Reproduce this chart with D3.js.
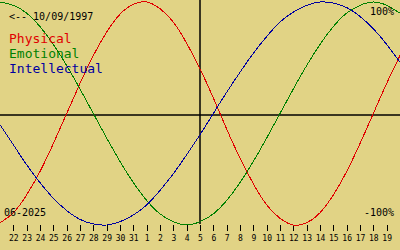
<!DOCTYPE html>
<html>
<head>
<meta charset="utf-8">
<script src="https://cdn.jsdelivr.net/npm/d3@7"></script>
<style>
  html, body { margin: 0; padding: 0; background: #e1d385; }
  svg { display: block; }
  text { font-family: "DejaVu Sans Mono", monospace; }
</style>
</head>
<body>
<div id="chart"></div>
<script>
'use strict';

// one entry per day, from 21 May to 20 June 2025 (index -1 .. 29)
var dayIndex = d3.range(-1, 30);
var dayLabels = ['22', '23', '24', '25', '26', '27', '28', '29', '30', '31',
    '1', '2', '3', '4', '5', '6', '7', '8', '9', '10',
    '11', '12', '13', '14', '15', '16', '17', '18', '19'];
var todayIndex = 14;

var physical = [-0.98, -0.89, -0.73, -0.52, -0.27, 0, 0.27, 0.52, 0.73, 0.89,
    0.98, 1.00, 0.94, 0.82, 0.63, 0.40, 0.14, -0.14, -0.40, -0.63,
    -0.82, -0.94, -1.00, -0.98, -0.89, -0.73, -0.52, -0.27, 0, 0.27, 0.52];
var emotional = [1.00, 0.97, 0.90, 0.78, 0.62, 0.43, 0.22, 0, -0.22, -0.43,
    -0.62, -0.78, -0.90, -0.97, -1.00, -0.97, -0.90, -0.78, -0.62, -0.43,
    -0.22, 0, 0.22, 0.43, 0.62, 0.78, 0.90, 0.97, 1.00, 0.97, 0.90];
var intellectual = [-0.10, -0.28, -0.46, -0.62, -0.76, -0.87, -0.95, -0.99, -1.00, -0.97,
    -0.91, -0.82, -0.69, -0.54, -0.37, -0.19, 0, 0.19, 0.37, 0.54,
    0.69, 0.82, 0.91, 0.97, 1.00, 0.99, 0.95, 0.87, 0.76, 0.62, 0.46];

var seriesNames = ['Physical', 'Emotional', 'Intellectual'];
var seriesColors = ['#e00000', '#008000', '#0000a0'];
var seriesValues = [physical, emotional, intellectual];

var WIDTH = 400,
    HEIGHT = 250,
    PLOT_BOTTOM = 225,
    AXIS_Y = 115;

var svg = d3.select('#chart').append('svg')
    .attr('width', WIDTH)
    .attr('height', HEIGHT);

var x = d3.scaleLinear().domain([-1, 29]).range([0, WIDTH]);
var y = d3.scaleLinear().domain([-1, 1]).range([PLOT_BOTTOM, 2]);

// centre lines
svg.append('line')
    .attr('x1', 0).attr('x2', WIDTH)
    .attr('y1', AXIS_Y).attr('y2', AXIS_Y)
    .attr('stroke', '#000').attr('stroke-width', 1.5);
svg.append('line')
    .attr('x1', x(todayIndex)).attr('x2', x(todayIndex))
    .attr('y1', 0).attr('y2', PLOT_BOTTOM - 1)
    .attr('stroke', '#000').attr('stroke-width', 1.5);

// day axis
var axis = d3.axisBottom(x)
    .tickValues(d3.range(0, 29))
    .tickSize(6)
    .tickPadding(4)
    .tickFormat(function (d) { return dayLabels[d]; });

var gAxis = svg.append('g')
    .attr('transform', 'translate(0,' + PLOT_BOTTOM + ')')
    .call(axis);
gAxis.select('.domain').remove();
gAxis.selectAll('line').attr('stroke', '#000').attr('shape-rendering', 'crispEdges');
gAxis.selectAll('text')
    .attr('fill', '#000')
    .style('font-family', '"DejaVu Sans Mono", monospace')
    .style('font-size', '8px');

// curves
var line = d3.line()
    .x(function (d, i) { return x(dayIndex[i]); })
    .y(function (d) { return y(d); })
    .curve(d3.curveNatural);

svg.append('g').selectAll('path')
    .data(seriesValues)
    .join('path')
    .attr('d', line)
    .attr('fill', 'none')
    .attr('stroke', function (d, i) { return seriesColors[i]; })
    .attr('stroke-width', 1)
    .attr('shape-rendering', 'crispEdges');

// labels
svg.append('text')
    .attr('x', 9).attr('y', 20)
    .style('font-size', '10px')
    .text('<-- 10/09/1997');

svg.append('g').selectAll('text')
    .data(seriesNames)
    .join('text')
    .attr('x', 9)
    .attr('y', function (d, i) { return 42.5 + i * 15; })
    .attr('fill', function (d, i) { return seriesColors[i]; })
    .style('font-size', '13px')
    .text(function (d) { return d; });

svg.append('text')
    .attr('x', 394).attr('y', 15)
    .attr('text-anchor', 'end')
    .style('font-size', '10px')
    .text('100%');

svg.append('text')
    .attr('x', 394).attr('y', 216)
    .attr('text-anchor', 'end')
    .style('font-size', '10px')
    .text('-100%');

svg.append('text')
    .attr('x', 4).attr('y', 216)
    .style('font-size', '10px')
    .text('06-2025');
</script>
</body>
</html>
